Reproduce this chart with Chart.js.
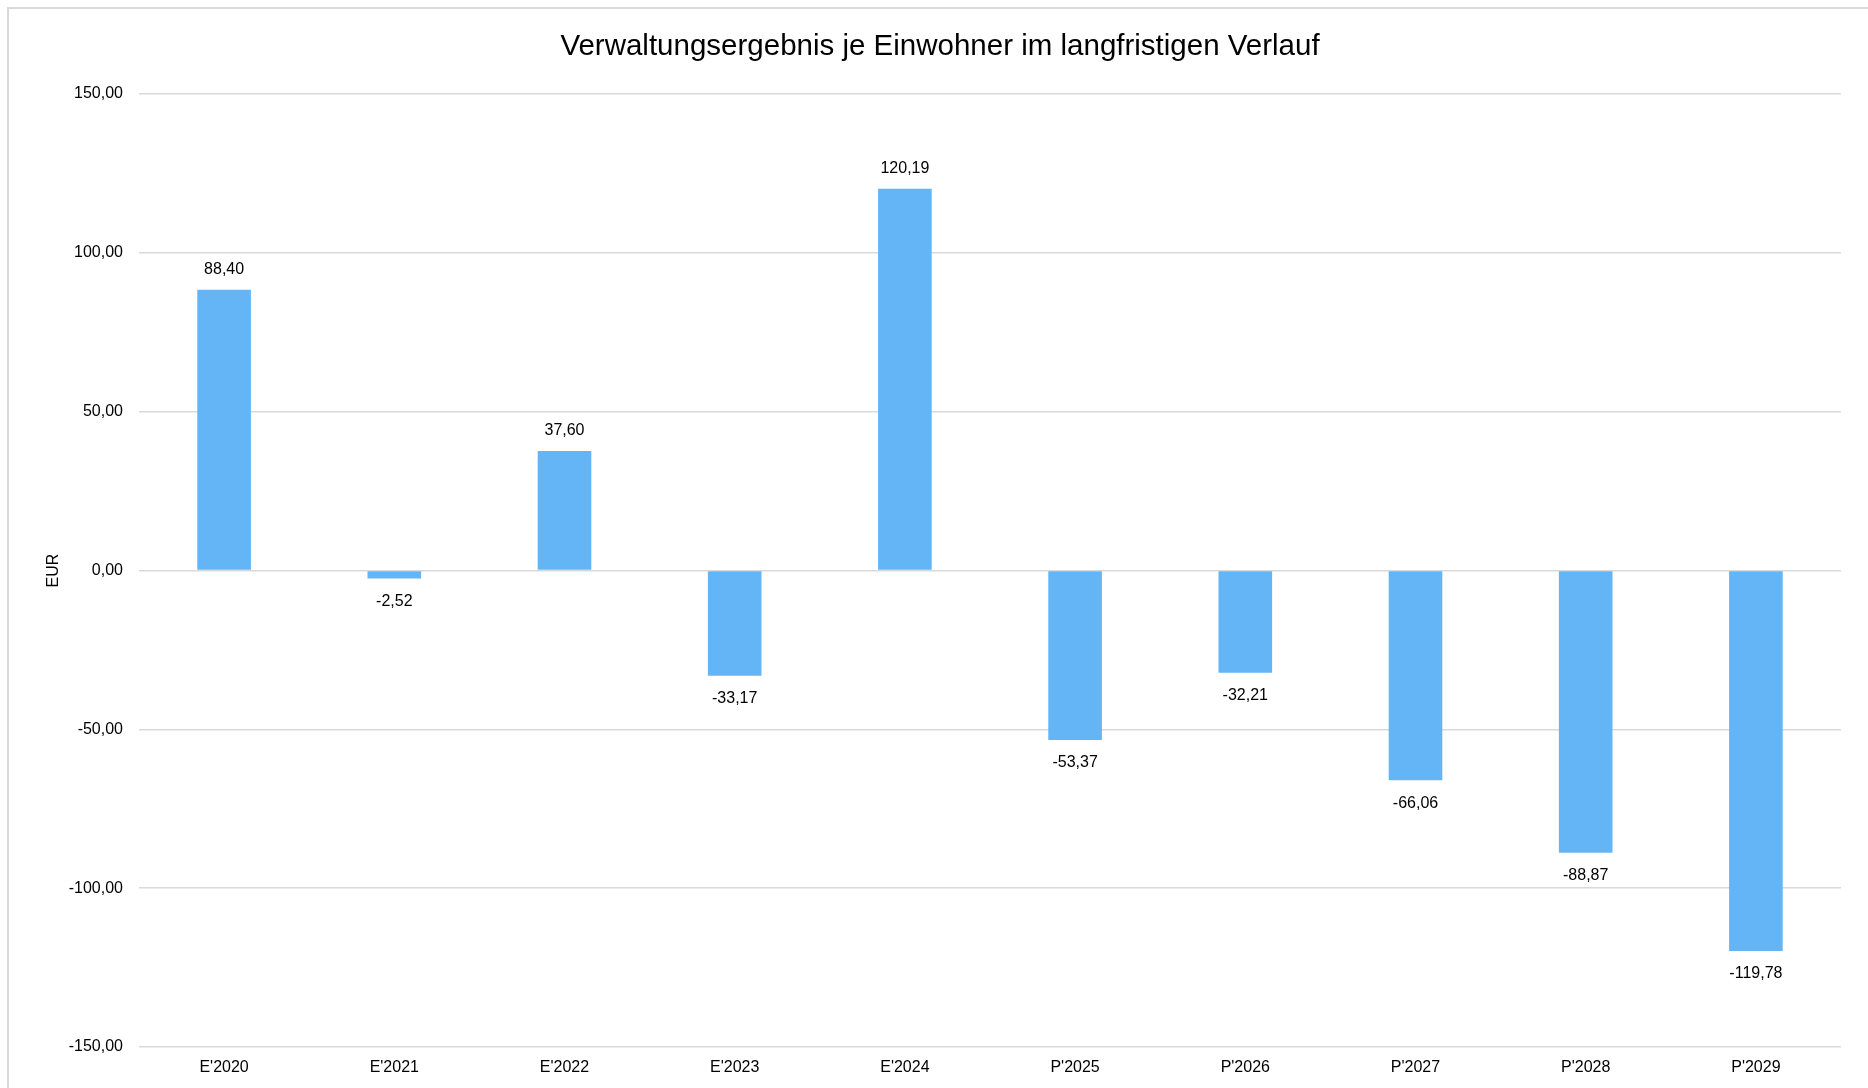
<!DOCTYPE html>
<html lang="de">
<head>
  <meta charset="UTF-8" />
  <title>Verwaltungsergebnis je Einwohner</title>
  <script src="https://cdn.jsdelivr.net/npm/chart.js"></script>
  <style>
    html, body { margin: 0; padding: 0; background: #fff; overflow: hidden; }
    #frame {
      position: absolute; left: 7px; top: 7px; width: 2000px; height: 1200px;
      border-left: 2px solid #d9d9d9; border-top: 2px solid #d9d9d9;
    }
    #wrap { position: absolute; left: 0; top: 0; width: 1868px; height: 1088px; }
  </style>
</head>
<body>
  <div id="frame"></div>
  <div id="wrap"><canvas id="chart" width="1868" height="1088"></canvas></div>

  <script>
    const years = ["E'2020", "E'2021", "E'2022", "E'2023", "E'2024", "P'2025", "P'2026", "P'2027", "P'2028", "P'2029"];
    const values = [88.40, -2.52, 37.60, -33.17, 120.19, -53.37, -32.21, -66.06, -88.87, -119.78];
    const yMin = -150, yMax = 150, yStep = 50;

    const fmt = v => v.toFixed(2).replace('.', ',');
    const font = "'Liberation Sans', Arial, sans-serif";

    // value labels outside the bar ends
    const barLabels = {
      id: 'barLabels',
      afterDatasetsDraw(chart) {
        const ctx = chart.ctx;
        const meta = chart.getDatasetMeta(0);
        ctx.save();
        ctx.font = '16px ' + font;
        ctx.fillStyle = '#000';
        ctx.textAlign = 'center';
        ctx.textBaseline = 'middle';
        meta.data.forEach((bar, i) => {
          const v = values[i];
          const y = v >= 0 ? bar.y - 20 : bar.y + 23;
          ctx.fillText(fmt(v), bar.x, y);
        });
        ctx.restore();
      }
    };

    new Chart(document.getElementById('chart'), {
      type: 'bar',
      data: {
        labels: years,
        datasets: [{
          data: values,
          backgroundColor: '#64b5f6',
          borderWidth: 0,
          categoryPercentage: 1,
          barPercentage: 0.315
        }]
      },
      options: {
        responsive: false,
        animation: false,
        layout: { padding: { left: 39, right: 27, top: 0, bottom: 0 } },
        plugins: {
          legend: { display: false },
          tooltip: { enabled: false },
          title: {
            display: true,
            text: 'Verwaltungsergebnis je Einwohner im langfristigen Verlauf',
            color: '#000',
            font: { family: font, size: 29.5, weight: 'normal' },
            padding: { top: 29.4, bottom: 29.2 }
          }
        },
        scales: {
          x: {
            grid: { display: false },
            border: { display: false },
            ticks: { color: '#000', font: { family: font, size: 16 }, padding: 3 },
            afterFit(scale) { scale.height = 41; }
          },
          y: {
            min: yMin,
            max: yMax,
            grid: { color: '#d9d9d9', lineWidth: 1.5, drawTicks: false },
            border: { display: false },
            ticks: {
              stepSize: yStep,
              color: '#000',
              font: { family: font, size: 16 },
              padding: 16,
              callback: v => fmt(v)
            },
            title: {
              display: true,
              text: 'EUR',
              color: '#000',
              font: { family: font, size: 16 },
              padding: { top: 5, bottom: 0 }
            },
            afterFit(scale) { scale.width = 100; }
          }
        }
      },
      plugins: [barLabels]
    });
  </script>
</body>
</html>
